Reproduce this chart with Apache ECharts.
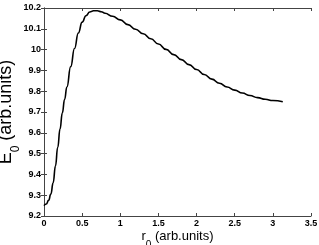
<!DOCTYPE html>
<html><head><meta charset="utf-8">
<script src="https://cdn.jsdelivr.net/npm/echarts@6/dist/echarts.min.js"></script>
<style>html,body{margin:0;padding:0;background:#fff}#c{width:319px;height:245px}</style>
</head><body><div id="c"></div>
<script>
const r0 = [0, 0.03, 0.06, 0.09, 0.12, 0.15, 0.18, 0.21, 0.24, 0.27, 0.30, 0.35, 0.40, 0.45, 0.50, 0.55, 0.60, 0.65, 0.70, 0.75, 0.80, 0.90, 1.0, 1.1, 1.2, 1.3, 1.4, 1.5, 1.6, 1.7, 1.8, 1.9, 2.0, 2.1, 2.2, 2.3, 2.4, 2.5, 2.6, 2.7, 2.8, 2.9, 3.0, 3.13];
const E0 = [9.250, 9.258, 9.275, 9.305, 9.360, 9.440, 9.530, 9.618, 9.695, 9.760, 9.820, 9.918, 10.005, 10.080, 10.132, 10.163, 10.181, 10.187, 10.187, 10.182, 10.175, 10.160, 10.143, 10.120, 10.098, 10.076, 10.052, 10.027, 10.001, 9.976, 9.952, 9.928, 9.904, 9.880, 9.858, 9.838, 9.820, 9.805, 9.791, 9.779, 9.769, 9.761, 9.755, 9.749];
const xTicks = [0, 0.5, 1, 1.5, 2, 2.5, 3, 3.5];
const yTicks = [9.2, 9.3, 9.4, 9.5, 9.6, 9.7, 9.8, 9.9, 10, 10.1, 10.2];

const chart = echarts.init(document.getElementById('c'));
const FF = 'Liberation Sans, Arial, sans-serif';
const axisLine = {show: true, lineStyle: {color: '#444', width: 1}};
const tick = {inside: true, length: 3, lineStyle: {color: '#444'}};
const lblStyle = {color: '#000', fontSize: 9, fontWeight: 'bold', fontFamily: FF};
chart.setOption({
  animation: false,
  grid: {left: 44, right: 8, top: 8, bottom: 29, containLabel: false, outerBoundsMode: 'none'},
  xAxis: [{
    type: 'value', min: 0, max: 3.5, interval: 0.5,
    axisLine, axisTick: tick, splitLine: {show: false},
    axisLabel: Object.assign({margin: 3, formatter: v => String(v)}, lblStyle),
    name: '{a|r}{b|0}{a| (arb.units)}', nameLocation: 'middle', nameGap: 14, nameMoveOverlap: false,
    nameTextStyle: {rich: {
      a: {fontSize: 13, fontFamily: FF, color: '#000', lineHeight: 14, verticalAlign: 'top'},
      b: {fontSize: 10, fontFamily: FF, color: '#000', lineHeight: 20, verticalAlign: 'bottom'}
    }}
  }, {
    type: 'value', min: 0, max: 3.5, interval: 0.5, position: 'top',
    axisLine, axisTick: tick, axisLabel: {show: false}, splitLine: {show: false}
  }],
  yAxis: [{
    type: 'value', min: 9.2, max: 10.2, interval: 0.1,
    axisLine, axisTick: tick, splitLine: {show: false},
    axisLabel: Object.assign({margin: 3, formatter: v => String(Math.round(v * 10) / 10)}, lblStyle),
    name: '{a|E}{b|0}{a| (arb.units)}', nameLocation: 'middle', nameGap: 22, nameMoveOverlap: false,
    nameTextStyle: {rich: {
      a: {fontSize: 18, fontFamily: FF, color: '#000', lineHeight: 18, verticalAlign: 'top'},
      b: {fontSize: 12, fontFamily: FF, color: '#000', lineHeight: 25, verticalAlign: 'bottom'}
    }}
  }, {
    type: 'value', min: 9.2, max: 10.2, interval: 0.1, position: 'right',
    axisLine, axisTick: tick, axisLabel: {show: false}, splitLine: {show: false}
  }],
  series: [{
    type: 'line', smooth: 0.5, smoothMonotone: 'x', showSymbol: false,
    data: r0.map((x, i) => [x, E0[i]]),
    lineStyle: {color: '#000', width: 1.6}
  }]
});
</script></body></html>
